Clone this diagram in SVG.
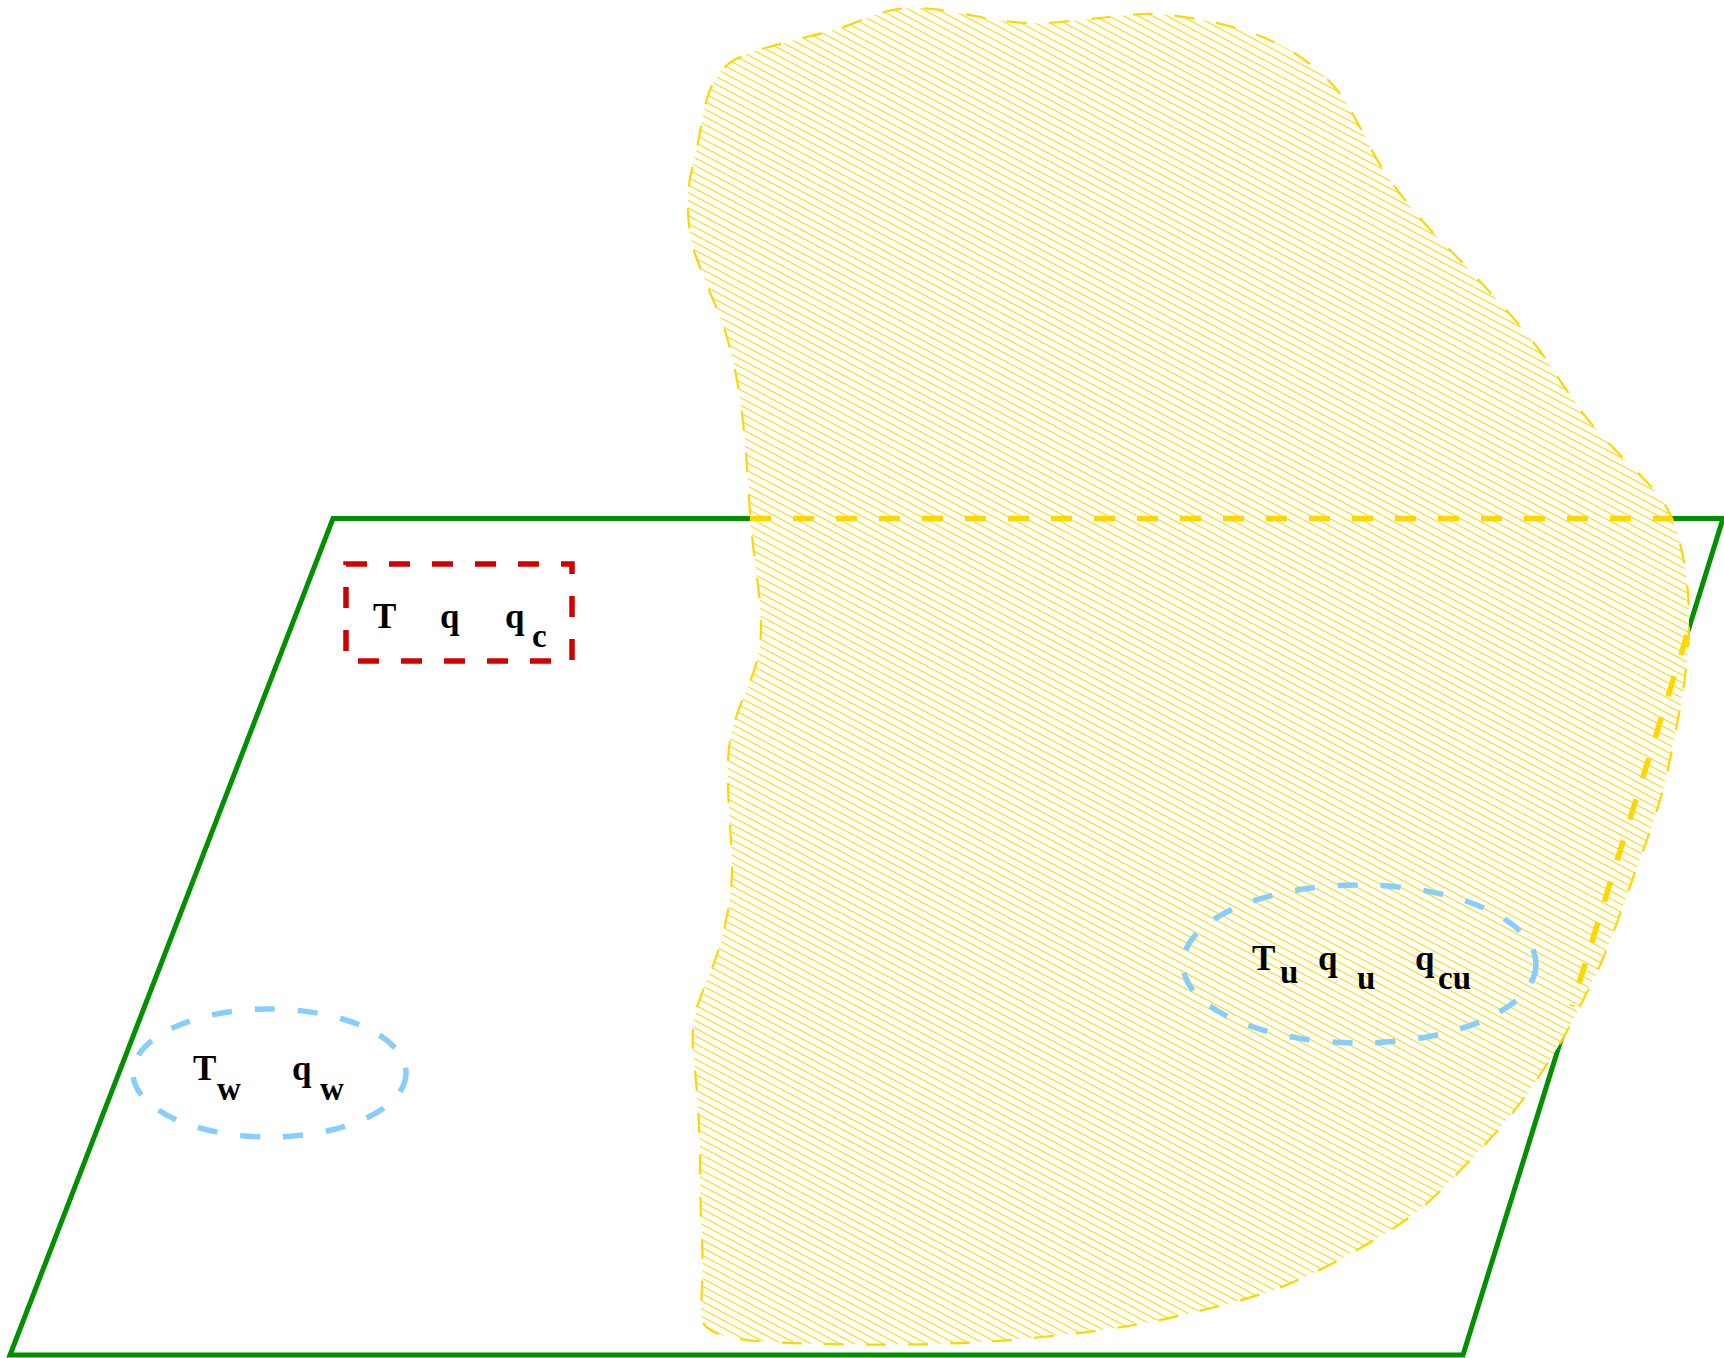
<svg xmlns="http://www.w3.org/2000/svg" xmlns:xlink="http://www.w3.org/1999/xlink" width="1724" height="1358" viewBox="0 0 1724 1358">
<style>
  .plane { fill: none; stroke: #009000; stroke-width: 5; stroke-linejoin: miter; }
  .blob-bg { fill: #ffffff; stroke: none; }
  .blob-hatch { fill: url(#hatch); stroke: none; }
  .blob-edge { fill: none; stroke: #FFD700; stroke-width: 2.2; stroke-dasharray: 20 22; }
  .hidden-edge { fill: none; stroke: #FFD700; stroke-width: 5.5; stroke-dasharray: 21 22; }
  .red-box { fill: none; stroke: #D40000; stroke-width: 5.5; stroke-dasharray: 21 22; }
  .blue-ell { fill: none; stroke: #87CEFA; stroke-width: 5.5; stroke-dasharray: 20 23; }
  .lbl { font-family: "Liberation Serif", "Times New Roman", serif; font-weight: bold; font-size: 35px; fill: #000; }
  .sub { font-family: "Liberation Serif", "Times New Roman", serif; font-weight: bold; font-size: 33px; fill: #000; }
</style>
<defs>
  <pattern id="hatch" patternUnits="userSpaceOnUse" width="20" height="6.8" patternTransform="rotate(28)">
    <line x1="0" y1="3.4" x2="20" y2="3.4" stroke="#FFD700" stroke-width="1.1"/>
  </pattern>
  <path id="blobShape" d="M716.5,307.5 Q713,300 707.5,286.5 Q702,273 696.5,258 Q691,243 689,225 Q687,207 688,193.5 Q689,180 693,165 Q697,150 701,126.5 Q705,103 709,92.5 Q713,82 719,73.5 Q725,65 736,59 Q747,53 767,47.5 Q787,42 807,37 Q827,32 838.5,28.5 Q850,25 863,19.5 Q876,14 888,11 Q900,8 915,8 Q930,8 950,11.5 Q970,15 985.5,18 Q1001,21 1019,22.5 Q1037,24 1059.5,22 Q1082,20 1104,17.5 Q1126,15 1143,14 Q1160,13 1188,17.5 Q1216,22 1238,28.5 Q1260,35 1280,45 Q1300,55 1318.5,71 Q1337,87 1347.5,105 Q1358,123 1368,143 Q1378,163 1390,180 Q1402,197 1416,213.5 Q1430,230 1445,245 Q1460,260 1475,276 Q1490,292 1504,307.5 Q1518,323 1531.5,340 Q1545,357 1556.5,375 Q1568,393 1580.5,410 Q1593,427 1608,442.5 Q1623,458 1638,473 Q1653,488 1660,497.5 Q1667,507 1672,518.5 Q1677,530 1681,547.5 Q1685,565 1687,582.5 Q1689,600 1689,620 Q1689,640 1687,660 Q1685,680 1681,702.5 Q1677,725 1671,754.5 Q1665,784 1659,803.5 Q1653,823 1646.5,841 Q1640,859 1633.5,876.5 Q1627,894 1620,914 Q1613,934 1605,953.5 Q1597,973 1590,986.5 Q1583,1000 1575.5,1015 Q1568,1030 1559,1045 Q1550,1060 1536.5,1080 Q1523,1100 1510,1116 Q1497,1132 1483.5,1146 Q1470,1160 1453.5,1177.5 Q1437,1195 1422,1207.5 Q1407,1220 1385,1233.5 Q1363,1247 1334,1262.5 Q1305,1278 1282.5,1286.5 Q1260,1295 1238,1301 Q1216,1307 1182.5,1315 Q1149,1323 1115.5,1328 Q1082,1333 1037,1337.5 Q992,1342 947.5,1343.5 Q903,1345 858.5,1344.5 Q814,1344 780.5,1342.5 Q747,1341 731,1337.5 Q715,1334 707.5,1328 Q700,1322 701,1306 Q702,1290 702.5,1274 Q703,1258 701.5,1227.5 Q700,1197 700,1170 Q700,1143 698.5,1116 Q697,1089 694.5,1065.5 Q692,1042 693,1028.5 Q694,1015 698.5,1002.5 Q703,990 710,973.5 Q717,957 722.5,935.5 Q728,914 730.5,894 Q733,874 731.5,850 Q730,826 728.5,799 Q727,772 728.5,753.5 Q730,735 735,720 Q740,705 746,691.5 Q752,678 756.5,662.5 Q761,647 761,628.5 Q761,610 758.5,590 Q756,570 753.5,549.5 Q751,529 749.5,504.5 Q748,480 746.5,460 Q745,440 742.5,417.5 Q740,395 735.5,372.5 Q731,350 725.5,332.5 Q720,315 716.5,307.5 Z"/>
</defs>
<rect x="0" y="0" width="1724" height="1358" fill="#ffffff"/>

<g id="plane">
  <polygon class="plane" points="333,518.5 1723,518.5 1463,1355 10,1355"/>
</g>

<g id="cloud">
  <use xlink:href="#blobShape" class="blob-bg"/>
  <use xlink:href="#blobShape" class="blob-hatch"/>
  <use xlink:href="#blobShape" class="blob-edge"/>
</g>

<g id="connectors">
  <line class="hidden-edge" x1="750" y1="518.5" x2="1672" y2="518.5"/>
  <line class="hidden-edge" x1="1687" y1="635" x2="1572" y2="1006"/>
</g>

<g id="node-cell">
  <rect class="red-box" x="346" y="564" width="226" height="97"/>
  <text class="lbl" x="373" y="628">T</text>
  <text class="lbl" x="440" y="628">q</text>
  <text class="lbl" x="505" y="628">q</text>
  <text class="sub" x="532" y="647">c</text>
</g>

<g id="node-wall">
  <ellipse class="blue-ell" cx="269.5" cy="1073" rx="136.5" ry="64"/>
  <text class="lbl" x="193" y="1080">T</text>
  <text class="sub" x="217" y="1100">w</text>
  <text class="lbl" x="292" y="1080">q</text>
  <text class="sub" x="320" y="1100">w</text>
</g>

<g id="node-upper">
  <ellipse class="blue-ell" cx="1359.5" cy="964" rx="176.5" ry="79"/>
  <text class="lbl" x="1252" y="970">T</text>
  <text class="sub" x="1280" y="983">u</text>
  <text class="lbl" x="1318" y="970">q</text>
  <text class="sub" x="1357" y="989">u</text>
  <text class="lbl" x="1415" y="970">q</text>
  <text class="sub" x="1438" y="989">cu</text>
</g>
</svg>
